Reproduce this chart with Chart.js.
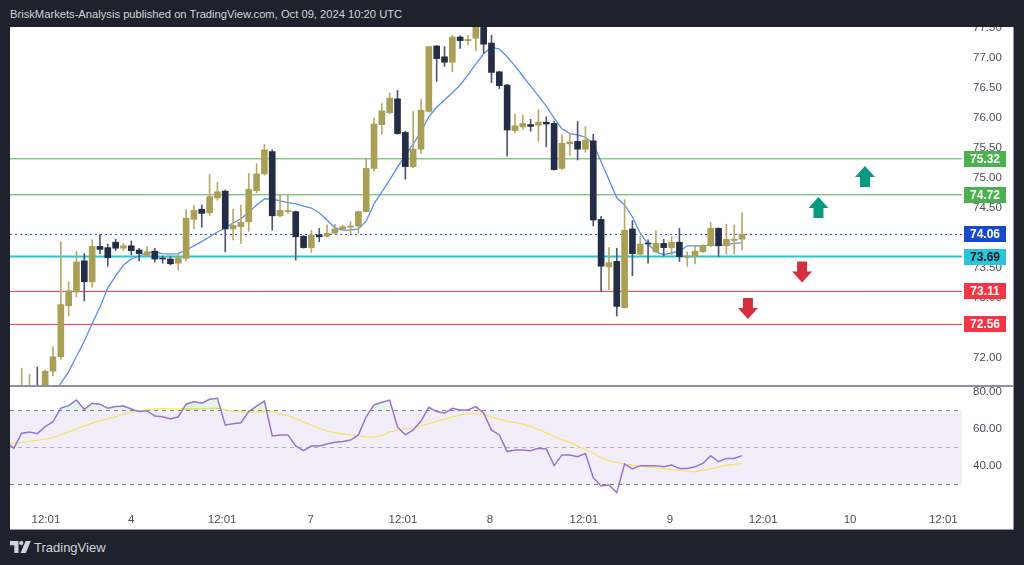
<!DOCTYPE html>
<html>
<head>
<meta charset="utf-8">
<script src="https://cdn.jsdelivr.net/npm/chart.js@4.4.1/dist/chart.umd.min.js"></script>
<style>
  html, body { margin: 0; padding: 0; background: #1e222d; width: 1024px; height: 565px; overflow: hidden; font-family: "Liberation Sans", Arial, sans-serif; }
  #hdr { position: absolute; left: 10px; top: 6px; line-height: 16px; color: #d1d4dc; font-size: 11.2px; white-space: nowrap; }
  #panel { position: absolute; left: 10px; top: 27px; width: 1003px; height: 502px; background: #fff; border-right: 1px solid #9598a1; border-bottom: 1px solid #9598a1; }
  #priceBox { position: absolute; left: 10px; top: 27px; width: 1003px; height: 358px; }
  #sep { position: absolute; left: 10px; top: 385px; width: 1004px; height: 2px; background: #8f929c; }
  #rsiBox { position: absolute; left: 10px; top: 387px; width: 1003px; height: 142px; }
  #logo { position: absolute; left: 10px; top: 541px; height: 14px; color: #d1d4dc; font-size: 13px; line-height: 14px; white-space: nowrap; }
  #logo svg { vertical-align: -1px; margin-right: 3px; }
</style>
</head>
<body>
<div id="hdr">BriskMarkets-Analysis published on TradingView.com, Oct 09, 2024 10:20 UTC</div>
<div id="panel"></div>
<div id="priceBox"><canvas id="priceChart" width="1003" height="358"></canvas></div>
<div id="sep"></div>
<div id="rsiBox"><canvas id="rsiChart" width="1003" height="142"></canvas></div>
<div id="logo"><svg width="21" height="12" viewBox="0 0 21 12"><path d="M0 0h8.5v12h-4.2v-7.8h-4.3z" fill="#d1d4dc"/><circle cx="11.3" cy="2.1" r="2.1" fill="#d1d4dc"/><path d="M15.6 0h5.2l-5 12h-5.2z" fill="#d1d4dc"/></svg>TradingView</div>
<script>
// hourly candles, bar 0 = first visible candle
var opens  = [71.40,71.45,71.50,71.40,71.78,72.02,72.87,73.10,73.62,73.27,73.86,73.84,73.93,73.83,73.87,73.80,73.71,73.78,73.66,73.65,
              73.58,73.66,74.31,74.48,74.42,74.67,74.78,74.15,74.19,74.27,74.79,75.07,75.44,74.37,74.44,74.44,74.03,73.84,74.05,74.03,
              74.08,74.15,74.18,74.20,74.44,75.16,75.89,76.09,76.32,75.76,75.19,75.48,76.11,77.20,77.02,76.93,77.35,77.29,77.33,77.60,
              77.25,76.77,76.55,75.79,75.85,75.89,75.88,75.93,75.91,75.16,75.57,75.61,75.48,75.62,74.31,73.52,73.61,72.84,74.15,73.73,
              73.91,73.77,73.91,73.84,73.93,73.68,73.70,73.77,73.87,74.16,73.87,73.96,73.98];
var highs  = [71.83,71.73,71.85,71.80,72.19,73.94,73.27,73.78,73.74,73.97,74.06,73.90,73.98,73.91,73.95,73.83,73.86,73.83,73.70,73.69,
              73.74,74.47,74.55,74.55,75.06,74.93,74.80,74.48,74.55,75.08,75.24,75.56,75.47,74.72,74.72,74.45,74.04,74.13,74.16,74.22,
              74.23,74.21,74.27,74.45,75.33,76.00,76.24,76.42,76.46,75.78,76.11,76.31,77.20,77.21,77.19,77.38,77.37,77.38,77.65,77.65,
              77.38,76.78,76.56,76.06,76.05,75.98,76.14,76.02,75.95,75.72,75.74,75.94,75.86,75.73,74.36,73.84,73.83,74.64,74.29,74.03,
              73.97,74.12,73.98,74.02,74.16,73.77,73.86,73.89,74.26,74.17,74.23,74.22,74.42];
var lows   = [71.30,71.35,71.30,71.35,71.70,71.98,72.70,73.02,72.95,73.18,73.74,73.53,73.79,73.79,73.72,73.62,73.70,73.60,73.58,73.55,
              73.47,73.62,74.15,74.18,74.38,74.63,73.77,73.97,73.91,74.11,74.75,75.05,74.13,74.35,74.41,73.63,73.83,73.76,73.94,74.02,
              74.07,74.12,74.08,74.08,74.43,75.12,75.73,76.07,75.73,74.98,75.17,75.41,76.10,76.61,76.86,76.77,77.16,77.22,77.12,77.08,
              76.59,76.49,75.37,75.75,75.81,75.78,75.61,75.52,75.13,75.14,75.38,75.30,75.43,74.20,73.11,73.14,72.70,72.83,73.37,73.70,
              73.58,73.76,73.70,73.72,73.61,73.53,73.57,73.76,73.86,73.69,73.73,73.73,73.80];
var closes = [71.45,71.48,71.40,71.78,72.02,72.89,73.12,73.60,73.27,73.86,73.81,73.67,73.83,73.87,73.79,73.74,73.77,73.65,73.65,73.57,
              73.67,74.33,74.46,74.41,74.69,74.77,74.15,74.21,74.26,74.81,75.07,75.47,74.37,74.46,74.45,74.02,73.84,74.05,74.02,74.08,
              74.15,74.19,74.20,74.44,75.16,75.90,76.12,76.33,75.74,75.19,75.48,76.13,77.19,76.99,76.93,77.35,77.29,77.31,77.58,77.23,
              76.76,76.54,75.80,75.87,75.91,75.86,75.93,75.90,75.14,75.58,75.60,75.48,75.63,74.30,73.53,73.59,72.86,74.13,73.74,73.90,
              73.90,73.91,73.84,73.93,73.69,73.70,73.78,73.87,74.16,73.87,73.98,73.98,74.06];
// moving average on price (blue)
var priceMA = [null,null,null,null,71.40,71.58,71.77,72.03,72.28,72.57,72.85,73.17,73.37,73.55,73.65,73.70,73.75,73.77,73.74,73.73,
               73.74,73.80,73.87,73.94,74.02,74.10,74.17,74.25,74.32,74.43,74.55,74.65,74.65,74.62,74.59,74.57,74.53,74.50,74.42,74.30,
               74.17,74.13,74.13,74.15,74.28,74.57,74.77,74.97,75.18,75.38,75.57,75.77,76.02,76.18,76.30,76.42,76.55,76.72,76.90,77.07,
               77.18,77.15,77.02,76.87,76.70,76.53,76.37,76.20,76.00,75.82,75.74,75.72,75.68,75.57,75.27,74.97,74.67,74.55,74.35,74.08,
               73.90,73.77,73.72,73.75,73.78,73.87,73.87,73.87,73.88,73.88,73.89,73.91,73.92];

// RSI pane, starts two bars before bar 0
var rsiStart = -2;
var rsi   = [53.0,49.6,57.7,58.4,57.5,61.3,63.9,71.3,72.6,75.7,70.6,73.9,73.4,71.2,72.1,72.4,70.8,69.4,69.9,67.0,66.6,65.4,
             66.6,73.4,74.8,73.9,76.1,76.6,62.2,62.8,63.4,69.4,72.3,75.1,56.2,56.8,56.8,50.8,48.3,50.8,50.8,51.9,52.8,53.3,
             54.0,56.8,66.6,73.0,74.5,75.6,61.0,56.8,59.5,64.3,71.7,69.4,68.5,71.2,70.3,70.3,72.1,68.5,59.5,56.8,47.8,48.6,
             48.6,48.3,49.6,49.2,40.2,46.0,46.0,45.0,46.8,33.7,29.2,29.7,25.6,41.1,38.4,40.2,40.2,40.2,39.6,40.5,38.7,38.7,
             39.6,41.4,45.6,42.3,44.1,44.1,45.6];
var rsiMA = [52.0,52.4,52.8,53.3,53.8,54.5,55.3,56.8,58.5,60.1,61.7,63.2,64.4,65.5,66.7,68.0,69.1,69.8,70.3,70.9,71.1,70.9,
             70.8,70.8,70.8,70.9,71.1,71.2,70.4,69.7,69.4,69.1,69.2,69.6,69.3,68.3,67.2,65.7,63.9,62.1,60.5,58.9,58.0,57.3,
             56.8,56.3,55.8,55.5,56.6,58.4,59.3,59.9,60.5,61.7,62.8,64.1,65.4,66.5,67.5,68.1,68.4,67.8,66.4,65.3,64.3,63.5,
             62.6,61.4,59.7,57.9,56.0,54.2,52.6,50.7,48.8,46.9,44.6,42.8,41.9,41.0,40.4,39.9,39.4,39.0,38.5,38.1,37.6,37.2,
             36.9,37.7,38.5,39.4,40.4,40.9,41.4];

// horizontal levels drawn by the author
var levels      = [75.32, 74.72, 74.06, 73.69, 73.11, 72.56];
var levelColors = ['#4caf50', '#4caf50', '#1848cc', '#26c6da', '#f23645', '#f23645'];

// arrows (bar position, price, direction)
var arrowBars   = [107.7, 101.76, 99.67, 92.75];
var arrowPrices = [75.025, 74.508, 73.433, 72.825];
var arrowDirs   = ['up', 'up', 'down', 'down'];

// axes
var priceTicks = [72, 72.5, 73, 73.5, 74, 74.5, 75, 75.5, 76, 76.5, 77, 77.5];
var rsiTicks = [40, 60, 80];
var timeTickBars = [3.1, 14.0, 25.6, 36.9, 48.7, 59.8, 71.8, 82.8, 94.7, 105.8, 117.7];
var timeTickLabels = ['12:01', '4', '12:01', '7', '12:01', '8', '12:01', '9', '12:01', '10', '12:01'];

var xMin = -1.49, xMax = 120.09;
var axisFont = { family: '"Liberation Sans", Arial, sans-serif', size: 11.5 };
var axisColor = '#4c4f5a';

var bullBody = '#aaa055', bearBody = '#232d46';
var bullWick = '#b4ab6c', bearWick = '#50576a';

var bodies = [], wicks = [], bodyColors = [], wickColors = [], maPts = [];
for (var i = 0; i < opens.length; i++) {
  var up = closes[i] >= opens[i];
  bodies.push({ x: i, y: [opens[i], closes[i]] });
  wicks.push({ x: i, y: [lows[i], highs[i]] });
  bodyColors.push(up ? bullBody : bearBody);
  wickColors.push(up ? bullWick : bearWick);
  if (priceMA[i] !== null) maPts.push({ x: i, y: priceMA[i] });
}

function flatLine(v) { return [{ x: xMin, y: v }, { x: xMax, y: v }]; }

var levelSets = levels.map(function (v, k) {
  return {
    type: 'line', data: flatLine(v), borderColor: levelColors[k],
    borderWidth: k === 3 ? 2 : 1, borderDash: k === 2 ? [2, 3] : [],
    pointRadius: 0, order: 3
  };
});

var levelBoxes = {
  id: 'levelBoxes',
  afterDraw: function (chart) {
    var ctx = chart.ctx, y = chart.scales.y, x = chart.scales.x, area = chart.chartArea;
    ctx.save();
    // arrows
    for (var a = 0; a < arrowBars.length; a++) {
      var cx = x.getPixelForValue(arrowBars[a]);
      var cy = y.getPixelForValue(arrowPrices[a]);
      var s = arrowDirs[a] === 'up' ? -1 : 1;
      ctx.beginPath();
      ctx.moveTo(cx, cy + s * 10.5);
      ctx.lineTo(cx + 10, cy - s * 0.5);
      ctx.lineTo(cx + 5, cy - s * 0.5);
      ctx.lineTo(cx + 5, cy - s * 10.5);
      ctx.lineTo(cx - 5, cy - s * 10.5);
      ctx.lineTo(cx - 5, cy - s * 0.5);
      ctx.lineTo(cx - 10, cy - s * 0.5);
      ctx.closePath();
      ctx.fillStyle = arrowDirs[a] === 'up' ? '#089981' : '#d32f3f';
      ctx.fill();
    }
    // price labels
    ctx.font = 'bold 12px "Liberation Sans", Arial, sans-serif';
    ctx.textAlign = 'center';
    ctx.textBaseline = 'middle';
    levels.forEach(function (v, k) {
      var py = Math.round(y.getPixelForValue(v));
      ctx.fillStyle = levelColors[k];
      ctx.fillRect(area.right + 2, py - 8, 42, 16);
      ctx.fillStyle = k === 3 ? '#131722' : '#ffffff';
      ctx.fillText(v.toFixed(2), area.right + 23, py + 0.5);
    });
    ctx.restore();
  }
};

var ctxPrice = document.getElementById('priceChart').getContext('2d');
var priceChart = new Chart(ctxPrice, {
  type: 'bar',
  data: {
    datasets: [
      { data: bodies, backgroundColor: bodyColors, barThickness: 6, minBarLength: 1, grouped: false, order: 0 },
      { data: wicks, backgroundColor: wickColors, barThickness: 1, grouped: false, order: 1 },
      { type: 'line', data: maPts, borderColor: '#5b8def', borderWidth: 1.3, pointRadius: 0, order: 2 }
    ].concat(levelSets)
  },
  options: {
    responsive: false,
    animation: false,
    events: [],
    layout: { padding: 0 },
    plugins: { legend: { display: false }, tooltip: { enabled: false } },
    scales: {
      x: { type: 'linear', min: xMin, max: xMax, offset: false, display: false },
      y: {
        position: 'right', min: 71.55, max: 77.517,
        grid: { display: false }, border: { display: false },
        ticks: { font: axisFont, color: axisColor, padding: 3, callback: function (v) { return v.toFixed(2); } },
        afterBuildTicks: function (s) { s.ticks = priceTicks.map(function (v) { return { value: v }; }); },
        afterFit: function (s) { s.width = 51; s.paddingTop = 0; s.paddingBottom = 0; }
      }
    }
  },
  plugins: [levelBoxes]
});

var rsiPts = rsi.map(function (v, k) { return { x: k + rsiStart, y: v }; });
var rsiMAPts = rsiMA.map(function (v, k) { return { x: k + rsiStart, y: v }; });

var ctxRsi = document.getElementById('rsiChart').getContext('2d');
var rsiChart = new Chart(ctxRsi, {
  type: 'line',
  data: {
    datasets: [
      { data: rsiPts, borderColor: '#9575cd', borderWidth: 1.5, pointRadius: 0, order: 0,
        fill: { target: { value: 70 }, above: 'rgba(76,175,80,0.14)', below: 'rgba(0,0,0,0)' } },
      { data: rsiMAPts, borderColor: '#f7e36b', borderWidth: 1.3, pointRadius: 0, order: 1 },
      { data: flatLine(70), borderColor: '#7c7f88', borderWidth: 1, borderDash: [4, 4], pointRadius: 0, order: 2,
        fill: { target: { value: 30 } }, backgroundColor: 'rgba(126,87,194,0.1)' },
      { data: flatLine(50), borderColor: '#b4b6bd', borderWidth: 1, borderDash: [4, 4], pointRadius: 0, order: 3 },
      { data: flatLine(30), borderColor: '#7c7f88', borderWidth: 1, borderDash: [4, 4], pointRadius: 0, order: 4 }
    ]
  },
  options: {
    responsive: false,
    animation: false,
    events: [],
    layout: { padding: 0 },
    plugins: { legend: { display: false }, tooltip: { enabled: false } },
    scales: {
      x: {
        type: 'linear', min: xMin, max: xMax, offset: false,
        grid: { display: false }, border: { display: false },
        ticks: { font: axisFont, color: axisColor, padding: 2, maxRotation: 0, autoSkip: false,
                 callback: function (v, idx) { return timeTickLabels[idx]; } },
        afterBuildTicks: function (s) { s.ticks = timeTickBars.map(function (v) { return { value: v }; }); },
        afterFit: function (s) { s.height = 26; s.paddingLeft = 0; s.paddingRight = 0; }
      },
      y: {
        position: 'right', min: 20, max: 82.7,
        grid: { display: false }, border: { display: false },
        ticks: { font: axisFont, color: axisColor, padding: 3, callback: function (v) { return v.toFixed(2); } },
        afterBuildTicks: function (s) { s.ticks = rsiTicks.map(function (v) { return { value: v }; }); },
        afterFit: function (s) { s.width = 51; s.paddingTop = 0; s.paddingBottom = 0; }
      }
    }
  }
});
</script>
</body>
</html>
